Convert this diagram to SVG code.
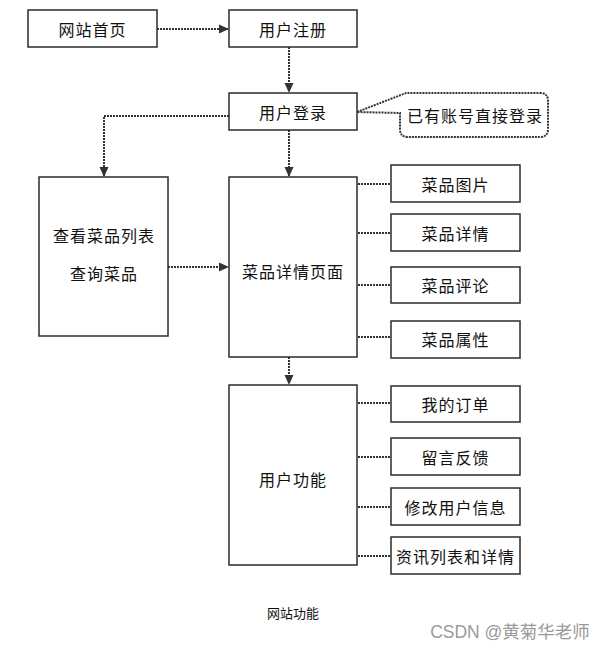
<svg xmlns="http://www.w3.org/2000/svg" width="613" height="651" viewBox="0 0 613 651">
<style>
.box{fill:#fff;stroke:#2b2b2b;stroke-width:1.5}
.t{font-family:"Noto Sans CJK SC","Liberation Sans",sans-serif;font-size:16px;fill:#111;text-anchor:middle;dominant-baseline:central;letter-spacing:1px}
.c{fill:none;stroke:#333;stroke-width:2;stroke-dasharray:2 1}
</style>
<defs>
<marker id="ah" markerWidth="10" markerHeight="10" refX="9" refY="5" orient="auto" markerUnits="userSpaceOnUse">
<path d="M0,0.5 L10,5 L0,9.5 Z" fill="#333"/>
</marker>
</defs>
<rect width="613" height="651" fill="#fff"/>
<g id="connectors">
<path class="c" d="M157,29 H228" marker-end="url(#ah)"/>
<path class="c" d="M289,47 V92" marker-end="url(#ah)"/>
<path class="c" d="M229,116 H104 V176" marker-end="url(#ah)"/>
<path class="c" d="M289,130 V176" marker-end="url(#ah)"/>
<path class="c" d="M168,267 H228" marker-end="url(#ah)"/>
<path class="c" d="M289,357 V384" marker-end="url(#ah)"/>
<path class="c" d="M358,184 H391 M358,233 H391 M358,285 H391 M358,337 H391 M358,403 H391 M358,457 H391 M358,507 H391 M358,556 H391"/>
</g>
<g id="n-home"><rect class="box" x="28" y="10" width="129" height="37"/><text class="t" x="92.5" y="29">网站首页</text></g>
<g id="n-register"><rect class="box" x="229" y="10" width="128" height="37"/><text class="t" x="293" y="29">用户注册</text></g>
<g id="n-login"><rect class="box" x="229" y="93" width="128" height="37"/><text class="t" x="293" y="112">用户登录</text></g>
<g id="n-callout"><path d="M357,112 L406,93 H540 Q548,93 548,101 V129 Q548,137 540,137 H408 Q400,137 400,129 V113 Z" fill="#fff" stroke="#333" stroke-width="2" stroke-dasharray="2 1"/><text class="t" x="475" y="115">已有账号直接登录</text></g>
<g id="n-list"><rect class="box" x="39" y="177" width="129" height="159"/><text class="t" x="104" y="235">查看菜品列表</text><text class="t" x="104" y="273">查询菜品</text></g>
<g id="n-detail"><rect class="box" x="229" y="177" width="128" height="180"/><text class="t" x="293" y="271">菜品详情页面</text></g>
<g id="n-pic"><rect class="box" x="391" y="165" width="129" height="37"/><text class="t" x="455.5" y="184">菜品图片</text></g>
<g id="n-info"><rect class="box" x="391" y="214" width="129" height="37"/><text class="t" x="455.5" y="233">菜品详情</text></g>
<g id="n-comment"><rect class="box" x="391" y="267" width="129" height="36"/><text class="t" x="455.5" y="285">菜品评论</text></g>
<g id="n-attr"><rect class="box" x="391" y="321" width="129" height="37"/><text class="t" x="455.5" y="339">菜品属性</text></g>
<g id="n-user"><rect class="box" x="229" y="385" width="128" height="180"/><text class="t" x="293" y="479">用户功能</text></g>
<g id="n-order"><rect class="box" x="391" y="386" width="129" height="36"/><text class="t" x="455.5" y="404">我的订单</text></g>
<g id="n-feedback"><rect class="box" x="391" y="438" width="129" height="37"/><text class="t" x="455.5" y="457">留言反馈</text></g>
<g id="n-profile"><rect class="box" x="391" y="488" width="129" height="37"/><text class="t" x="455.5" y="507">修改用户信息</text></g>
<g id="n-news"><rect class="box" x="391" y="537" width="129" height="37"/><text class="t" x="455.5" y="556">资讯列表和详情</text></g>
<text x="293" y="612" style="font-family:'Noto Sans CJK SC',sans-serif;font-size:13px;fill:#111;text-anchor:middle;dominant-baseline:central">网站功能</text>
<text x="510" y="632" style="font-family:'Liberation Sans','Noto Sans CJK SC',sans-serif;font-size:17.5px;fill:#9a9a9a;text-anchor:middle;dominant-baseline:central">CSDN @黄菊华老师</text>
</svg>
